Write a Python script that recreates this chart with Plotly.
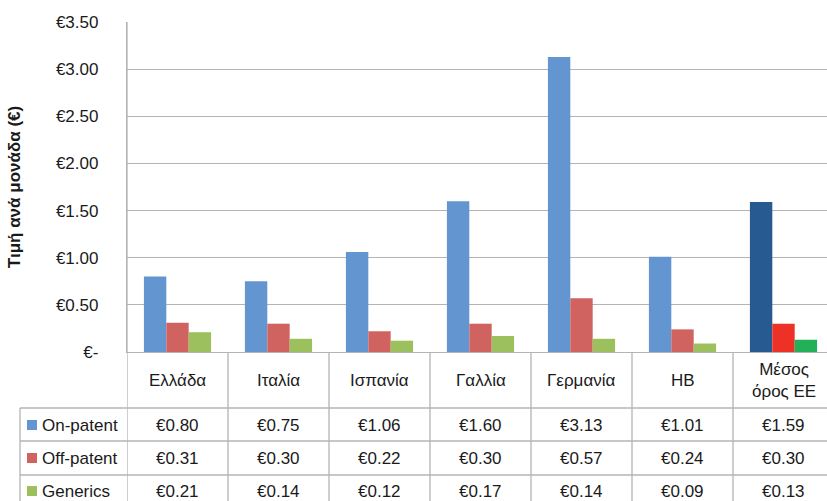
import plotly.graph_objects as go

# Unit price per medicine, by country and patent status
categories = ["Ελλάδα", "Ιταλία", "Ισπανία", "Γαλλία", "Γερμανία", "ΗΒ", "Μέσος<br>όρος ΕΕ"]
series_names = ["On-patent", "Off-patent", "Generics"]
on_patent = [0.80, 0.75, 1.06, 1.60, 3.13, 1.01, 1.59]
off_patent = [0.31, 0.30, 0.22, 0.30, 0.57, 0.24, 0.30]
generics = [0.21, 0.14, 0.12, 0.17, 0.14, 0.09, 0.13]
y_ticks = [0, 0.5, 1.0, 1.5, 2.0, 2.5, 3.0, 3.5]
y_tick_labels = ["€-", "€0.50", "€1.00", "€1.50", "€2.00", "€2.50", "€3.00", "€3.50"]

series_values = [on_patent, off_patent, generics]
base_colors = ["#6396D0", "#D0635F", "#9DC05F"]
avg_colors = ["#265A91", "#EE3127", "#22B158"]

W, H = 827, 501
L, T, B = 127, 22, 149
plot_h = H - T - B
col_w = 101.0
x_max = (W - L) / col_w - 0.5

FONT = "Liberation Sans, Arial, sans-serif"
FS = 17
TXT = "#1a1a1a"
GRID = "#B4B4B4"

fig = go.Figure()
xs = list(range(len(categories)))
for name, vals, c, ca in zip(series_names, series_values, base_colors, avg_colors):
    colors = [c] * (len(vals) - 1) + [ca]
    fig.add_trace(go.Bar(x=xs, y=vals, name=name, marker=dict(color=colors, line=dict(width=0)),
                         showlegend=False, hoverinfo="y"))


def py(pix):
    """Convert a pixel row into paper coordinates."""
    return (H - B - pix) / plot_h


def px(pix):
    """Convert a pixel column into paper coordinates."""
    return (pix - L) / (W - L)


shapes = []
annotations = []
line = dict(color=GRID, width=1.3)

# Table grid: horizontal rows
shapes.append(dict(type="line", xref="paper", yref="paper", x0=px(20), x1=1,
                   y0=py(408), y1=py(408), line=line))
for r in [441, 475]:
    shapes.append(dict(type="line", xref="paper", yref="paper", x0=px(20), x1=1,
                       y0=py(r), y1=py(r), line=line))
# left border of the series rows
shapes.append(dict(type="line", xref="paper", yref="paper", x0=px(20), x1=px(20),
                   y0=py(408), y1=py(H + 2), line=line))
# column boundaries
for i in range(len(categories) + 1):
    xb = i - 0.5
    if xb > x_max:
        break
    shapes.append(dict(type="line", xref="x", yref="paper", x0=xb, x1=xb,
                       y0=0 if i > 0 else 1, y1=py(H + 2), line=line))

# category row
for i, cat in enumerate(categories):
    annotations.append(dict(x=i, y=py(380), xref="x", yref="paper", text=cat, showarrow=False,
                            font=dict(family=FONT, size=FS, color=TXT), xanchor="center", yanchor="middle"))

# series rows
row_centres = [425, 458, 491]
for name, vals, c, yc in zip(series_names, series_values, base_colors, row_centres):
    shapes.append(dict(type="rect", xref="paper", yref="paper",
                       x0=px(27), x1=px(37), y0=py(yc - 5), y1=py(yc + 5),
                       fillcolor=c, line=dict(width=0)))
    annotations.append(dict(x=px(40), y=py(yc), xref="paper", yref="paper", text=name,
                            showarrow=False, font=dict(family=FONT, size=FS, color=TXT),
                            xanchor="left", yanchor="middle"))
    for i, v in enumerate(vals):
        annotations.append(dict(x=i, y=py(yc), xref="x", yref="paper", text=f"€{v:.2f}",
                                showarrow=False, font=dict(family=FONT, size=FS, color=TXT),
                                xanchor="center", yanchor="middle"))

fig.update_layout(
    width=W, height=H,
    margin=dict(l=L, r=0, t=T, b=B, pad=0),
    paper_bgcolor="white", plot_bgcolor="white",
    barmode="group", bargap=0.335, bargroupgap=0,
    shapes=shapes, annotations=annotations,
    xaxis=dict(range=[-0.5, x_max], showticklabels=False, showgrid=False, zeroline=False,
               showline=True, linecolor=GRID, linewidth=1.3, ticks=""),
    yaxis=dict(range=[0, 3.5], tickvals=y_ticks, ticktext=y_tick_labels, showgrid=True,
               gridcolor=GRID, gridwidth=1.3, zeroline=False, showline=True, linecolor=GRID,
               linewidth=1.3, ticks="", ticklabelstandoff=24,
               tickfont=dict(family=FONT, size=FS, color=TXT),
               title=dict(text="<b>Τιμή ανά μονάδα (€)</b>", standoff=30,
                          font=dict(family=FONT, size=17, color=TXT))),
)

fig.write_html("out.html")
